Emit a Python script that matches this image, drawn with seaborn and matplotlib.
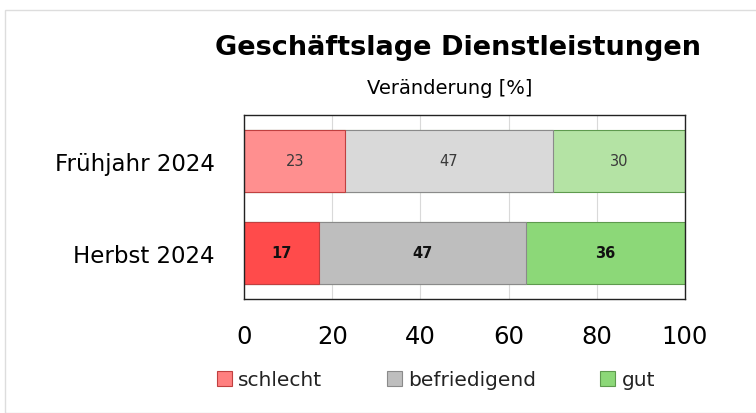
import matplotlib
matplotlib.use("Agg")
import matplotlib.pyplot as plt
import seaborn as sns
import pandas as pd
from matplotlib.patches import Patch, Rectangle

periods = ["Frühjahr 2024", "Herbst 2024"]
categories = ["schlecht", "befriedigend", "gut"]
schlecht = [23, 17]
befriedigend = [47, 47]
gut = [30, 36]
xticks = [0, 20, 40, 60, 80, 100]

light = {"schlecht": "#FF8F8F", "befriedigend": "#D9D9D9", "gut": "#B4E3A4"}
dark = {"schlecht": "#FF4B4B", "befriedigend": "#BEBEBE", "gut": "#8CD878"}
edge = {"schlecht": "#C04040", "befriedigend": "#8A8A8A", "gut": "#5E9A4E"}

sns.set_theme(style="white")
plt.rcParams["font.family"] = ["DejaVu Sans"]
plt.rcParams["text.color"] = "black"
plt.rcParams["xtick.color"] = "black"
plt.rcParams["ytick.color"] = "black"

fig = plt.figure(figsize=(7.56, 4.14), dpi=100)
ax = fig.add_axes([244/756, 1-300/414, 441/756, 184/414])

values = {"schlecht": schlecht, "befriedigend": befriedigend, "gut": gut}
df = pd.DataFrame({"period": periods, **values})
df["c1"] = df["schlecht"]
df["c2"] = df["schlecht"] + df["befriedigend"]
df["c3"] = df["c2"] + df["gut"]
cum = {"schlecht": "c1", "befriedigend": "c2", "gut": "c3"}

for cat in reversed(categories):
    sns.barplot(data=df, x=cum[cat], y="period", hue="period",
                palette=[light[cat], dark[cat]], dodge=False, legend=False,
                saturation=1, width=0.67, orient="h", ax=ax,
                edgecolor=edge[cat], linewidth=0.8, zorder=2)

starts = {"schlecht": [0, 0], "befriedigend": schlecht,
          "gut": [a + b for a, b in zip(schlecht, befriedigend)]}
for cat in categories:
    for i in range(len(periods)):
        v = values[cat][i]
        cx = starts[cat][i] + v / 2
        ax.text(cx, i, f"{v}", ha="center", va="center",
                fontsize=10.5, fontweight="normal" if i == 0 else "bold",
                color="#3a3a3a" if i == 0 else "#111111", zorder=5)

ax.set_xlim(0, 100)
ax.set_ylim(1.5, -0.5)
ax.set_xticks(xticks)
ax.set_xticklabels([str(t) for t in xticks], fontsize=17.5)
ax.tick_params(axis="x", pad=18, length=0)
ax.tick_params(axis="y", pad=21, length=0, labelsize=16.5)
ax.set_xlabel("")
ax.set_ylabel("")
ax.grid(axis="x", color="#D9D9D9", linewidth=0.8, zorder=0)
ax.set_axisbelow(True)
for s in ax.spines.values():
    s.set_color("#222222")
    s.set_linewidth(1.0)

fig.text(458/756, 1-48/414, "Geschäftslage Dienstleistungen", ha="center", va="center",
         fontsize=19.5, fontweight="bold")
fig.text(450/756, 1-88/414, "Veränderung [%]", ha="center", va="center", fontsize=14)

handles = [Patch(facecolor=c, edgecolor=edge[k], linewidth=0.8) for k, c in
           [("schlecht", "#FF7F7F"), ("befriedigend", dark["befriedigend"]), ("gut", dark["gut"])]]
fig.legend(handles, categories, loc="center", bbox_to_anchor=(436/756, 1-381/414), ncol=3,
           frameon=False, fontsize=14.5, handlelength=0.75, handleheight=0.75,
           handletextpad=0.3, columnspacing=3.2, labelcolor="#222222")

fig.patches.append(Rectangle((5/756, 0), 1, 1-11/414, transform=fig.transFigure,
                             fill=False, edgecolor="#DDDDDD", linewidth=1))

fig.savefig("out.png", dpi=100)
